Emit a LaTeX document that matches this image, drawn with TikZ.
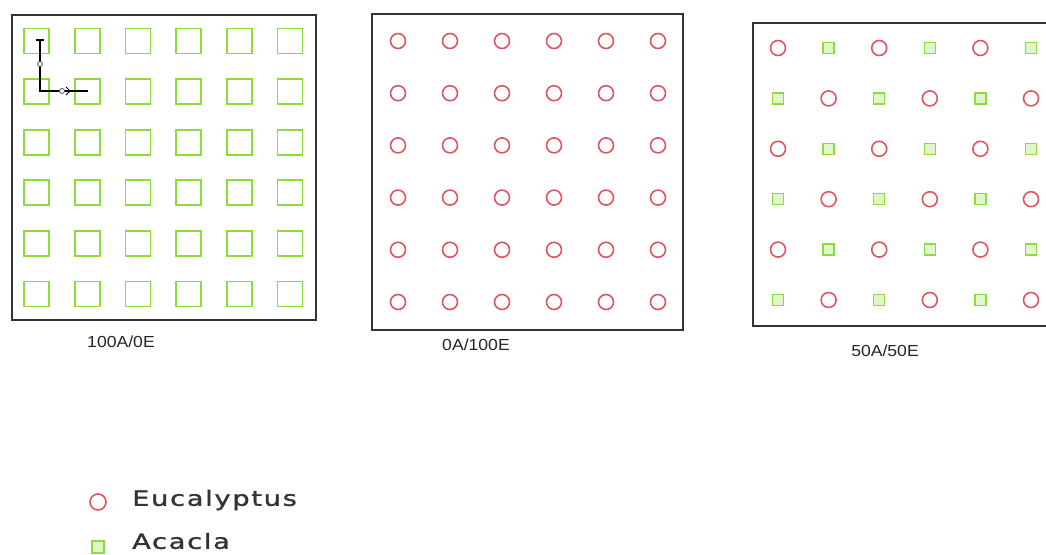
\documentclass[tikz,border=0pt]{standalone}
\usepackage{fontspec}
\setmainfont{Liberation Sans}
\newfontfamily\labfont[FakeStretch=1.1]{Liberation Sans}
\newfontfamily\legfont[FakeStretch=1.3,LetterSpace=8,FakeBold=1.2]{DejaVu Sans}
\definecolor{acgreen}{RGB}{140,220,60}
\definecolor{eured}{RGB}{225,85,95}
\definecolor{frame}{RGB}{50,50,55}
\tikzset{
  plotbox/.style={draw=frame, line width=2pt},
  bigsq/.style={draw=acgreen, line width=1.8pt},
  smallsq/.style={draw=acgreen, fill=acgreen!25, line width=1.4pt},
  eucirc/.style={draw=eured, line width=1.6pt},
  plotlabel/.style={font=\labfont\fontsize{16}{16}\selectfont, text=black!85, inner sep=0pt},
  leglabel/.style={font=\legfont\fontsize{21}{21}\selectfont, text=black!80, anchor=west, inner sep=0pt},
}
\begin{document}
\begin{tikzpicture}[x=1pt,y=-1pt]
\clip (0,0) rectangle (1046,554);
\fill[white] (0,0) rectangle (1046,554);
% Panel 1: 100A/0E
\draw[plotbox] (12,15) rectangle (316,320);
\foreach \i in {0,...,5}{
  \foreach \j in {0,...,5}{
    \draw[bigsq] ({36.5+50.7*\i-12.5},{41+50.6*\j-12.5}) rectangle ++(25,25);
  }
}
% axis symbol
\draw[black, line width=1.6pt] (40,40) -- (40,91) -- (88,91);
\draw[black, line width=1.2pt] (36,40) -- (44,40);
\draw[black!70, line width=0.8pt, fill=white] (40,64) circle (2.5);
\draw[black!70, line width=0.8pt, fill=white] (62,91) circle (2.5);
\draw[black, line width=1pt] (66,87) -- (70,91) -- (66,95);
\node[plotlabel] (l1) at (121,342) {100A/0E};
% Panel 2: 0A/100E
\draw[plotbox] (372,14) rectangle (683,330);
\foreach \i in {0,...,5}{
  \foreach \j in {0,...,5}{
    \draw[eucirc] ({398+52*\i},{41+52.2*\j}) circle (7.5);
  }
}
\node[plotlabel] (l2) at (476,345) {0A/100E};
% Panel 3: 50A/50E
\draw[plotbox] (753,23) rectangle (1060,326);
\foreach \i in {0,...,5}{
  \foreach \j in {0,...,5}{
    \pgfmathtruncatemacro{\parity}{mod(\i+\j,2)}
    \ifnum\parity=0
      \draw[eucirc] ({778+50.6*\i},{48+50.4*\j}) circle (7.5);
    \else
      \draw[smallsq] ({778+50.6*\i-5.5},{48+50.4*\j-5.5}) rectangle ++(11,11);
    \fi
  }
}
\node[plotlabel] (l3) at (885,351) {50A/50E};
% Legend
\draw[eucirc] (98,502) circle (8);
\node[leglabel] (leu) at (132,500) {Eucalyptus};
\draw[smallsq] (92,541) rectangle ++(12,12);
\node[leglabel] (lac) at (132,541) {Acacla};
\end{tikzpicture}
\end{document}
